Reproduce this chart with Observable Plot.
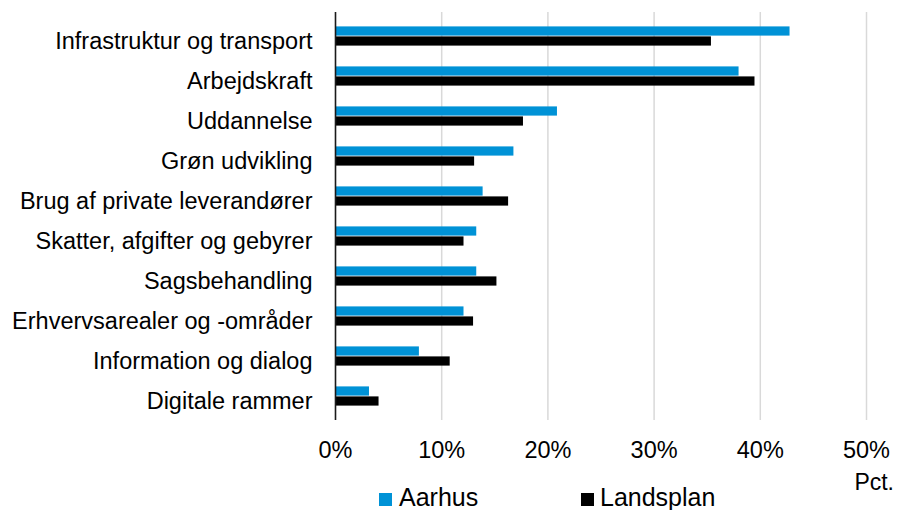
<!DOCTYPE html>
<html>
<head>
<meta charset="utf-8">
<script src="https://cdn.jsdelivr.net/npm/d3@7"></script>
<script src="https://cdn.jsdelivr.net/npm/@observablehq/plot@0.6"></script>
<style>
  html, body { margin: 0; padding: 0; background: #fff; }
  #wrap { position: relative; width: 897px; height: 510px; overflow: hidden; font-family: "Liberation Sans", Arial, sans-serif; color: #000; }
  .lg { position: absolute; white-space: nowrap; }
  .sw { position: absolute; width: 13px; height: 13px; }
</style>
</head>
<body>
<div id="wrap"></div>
<script>
const categories = [
  "Infrastruktur og transport",
  "Arbejdskraft",
  "Uddannelse",
  "Grøn udvikling",
  "Brug af private leverandører",
  "Skatter, afgifter og gebyrer",
  "Sagsbehandling",
  "Erhvervsarealer og -områder",
  "Information og dialog",
  "Digitale rammer"
];
const aarhus    = [42.8, 38.0, 20.9, 16.8, 13.9, 13.3, 13.3, 12.1, 7.9, 3.2];
const landsplan = [35.4, 39.5, 17.7, 13.1, 16.3, 12.1, 15.2, 13.0, 10.8, 4.1];
const seriesNames = ["Aarhus", "Landsplan"];
const seriesColors = ["#0092D6", "#000000"];
const xTicks = [0, 10, 20, 30, 40, 50];
const axisLabel = "Pct.";

const dataA = categories.map((c, i) => ({category: c, value: aarhus[i]}));
const dataL = categories.map((c, i) => ({category: c, value: landsplan[i]}));

const H = 470, MT = 12, MB = 50;
const band = (H - MT - MB) / categories.length;
const barH = 10;

const chart = Plot.plot({
  width: 897,
  height: H,
  marginTop: MT,
  marginBottom: MB,
  marginLeft: 335,
  marginRight: 31,
  style: {fontFamily: '"Liberation Sans", Arial, sans-serif', fontSize: "23.5px", color: "#000", background: "#fff"},
  x: {domain: [0, 50], ticks: xTicks},
  y: {domain: categories, padding: 0},
  marks: [
    Plot.ruleX(xTicks.filter(d => d > 0), {stroke: "#d9d9d9", strokeWidth: 1.5}),
    Plot.barX(dataA, {y: "category", x: "value", fill: seriesColors[0],
      insetTop: band / 2 - barH, insetBottom: band / 2}),
    Plot.barX(dataL, {y: "category", x: "value", fill: seriesColors[1],
      insetTop: band / 2, insetBottom: band / 2 - barH}),
    Plot.ruleX([0], {stroke: "#1a1a1a", strokeWidth: 1.6}),
    Plot.axisX({ticks: xTicks, tickFormat: d => d + "%", tickSize: 0, tickPadding: 21, label: null, fontSize: "23.5px"}),
    Plot.axisY({tickSize: 0, tickPadding: 23, label: null, fontSize: "23.5px", dy: 5})
  ]
});

const wrap = document.getElementById("wrap");
wrap.appendChild(chart);

// Legend
const legendItems = [
  {name: seriesNames[0], color: seriesColors[0], sx: 379, tx: 399},
  {name: seriesNames[1], color: seriesColors[1], sx: 581, tx: 600}
];
legendItems.forEach(it => {
  const sw = document.createElement("div");
  sw.className = "sw";
  sw.style.left = it.sx + "px";
  sw.style.top = "493px";
  sw.style.background = it.color;
  wrap.appendChild(sw);
  const t = document.createElement("div");
  t.className = "lg";
  t.textContent = it.name;
  t.style.left = it.tx + "px";
  t.style.top = "485px";
  t.style.fontSize = "25px";
  t.style.lineHeight = "25px";
  wrap.appendChild(t);
});
const pct = document.createElement("div");
pct.className = "lg";
pct.textContent = axisLabel;
pct.style.right = (897 - 894) + "px";
pct.style.top = "471px";
pct.style.fontSize = "23px";
pct.style.lineHeight = "23px";
wrap.appendChild(pct);
</script>
</body>
</html>
